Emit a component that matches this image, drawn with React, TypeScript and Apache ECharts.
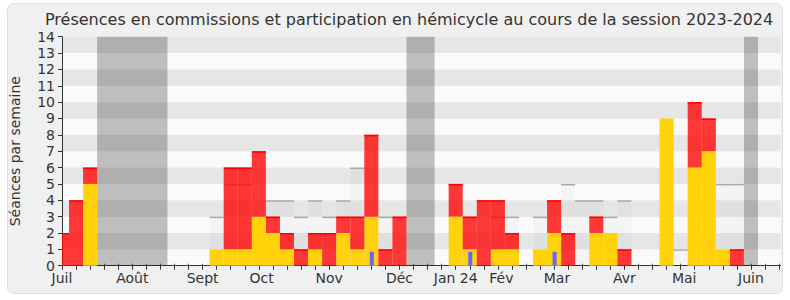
import React, { useEffect, useRef } from "react";
import * as echarts from "echarts";

// Weekly values, session 2023-2024 (week index 0 = first week of July 2023)
const hemicycle = [0, 0, 5, 0, 0, 0, 0, 0, 0, 0, 0, 1, 1, 1, 3, 2, 1, 0, 1, 0, 2, 1, 3, 0, 0, 0, 0, 0, 3, 1, 0, 1, 1, 0, 1, 2, 0, 0, 2, 2, 0, 0, 0, 9, 0, 6, 7, 1, 0, 0, 0, 0];
const commission = [2, 4, 1, 0, 0, 0, 0, 0, 0, 0, 0, 0, 5, 5, 4, 1, 1, 1, 1, 2, 1, 2, 5, 1, 3, 0, 0, 0, 2, 2, 4, 3, 1, 0, 0, 2, 2, 0, 1, 0, 1, 0, 0, 0, 0, 4, 2, 0, 1, 0, 0, 0];
const median: (number | null)[] = [null, null, null, null, null, null, null, null, null, null, null, 3, 5, 5, null, 4, 4, 3, 4, 3, 4, 6, null, 3, null, null, null, null, null, null, null, 3, 3, null, 3, null, 5, 4, 4, 3, 4, null, null, null, 1, null, null, 5, 5, null, null, null];
const questions = [0, 0, 0, 0, 0, 0, 0, 0, 0, 0, 0, 0, 0, 0, 0, 0, 0, 0, 0, 0, 0, 0, 0.85, 0, 0, 0, 0, 0, 0, 0.85, 0, 0, 0, 0, 0, 0.85, 0, 0, 0, 0, 0, 0, 0, 0, 0, 0, 0, 0, 0, 0, 0, 0];
const vacations = [[3, 7], [25, 26], [49, 49]];
const monthNames = ["Juil", "Août", "Sept", "Oct", "Nov", "Déc", "Jan 24", "Fév", "Mar", "Avr", "Mai", "Juin"];
const monthPos = [0, 5, 10, 14.2, 19, 24, 28, 31.25, 35.2, 40, 44.25, 49];
const yTicks = [0, 1, 2, 3, 4, 5, 6, 7, 8, 9, 10, 11, 12, 13, 14];

const FONT = "DejaVu Sans";
const X_MIN = 0;
const X_MAX = 51.1;

function clip(rect: any, params: any) {
  const cs = params.coordSys;
  return echarts.graphic.clipRectByRect(rect, { x: cs.x, y: cs.y, width: cs.width, height: cs.height });
}

function slotRender(fill: string, topStroke: string | null, topWidth = 1.5) {
  return (params: any, api: any) => {
    const k = api.value(0);
    const lo = api.value(1);
    const hi = api.value(2);
    const p1 = api.coord([k - 0.5, hi]);
    const p2 = api.coord([k + 0.5, lo]);
    const rect = clip({ x: p1[0], y: p1[1], width: p2[0] - p1[0], height: p2[1] - p1[1] }, params);
    if (!rect) return null;
    const children: any[] = [{ type: "rect", shape: rect, style: { fill } }];
    if (topStroke) {
      children.push({
        type: "line",
        shape: { x1: rect.x, y1: rect.y + topWidth / 2, x2: rect.x + rect.width, y2: rect.y + topWidth / 2 },
        style: { stroke: topStroke, lineWidth: topWidth },
      });
    }
    return { type: "group", children };
  };
}

export default function App() {
  const ref = useRef<HTMLDivElement>(null);
  useEffect(() => {
    if (!ref.current) return;
    const chart = echarts.init(ref.current, null, { renderer: "svg" });
    const weekIdx = hemicycle.map((_, i) => i);

    const yellowData = weekIdx.filter((k) => hemicycle[k] > 0).map((k) => [k, 0, hemicycle[k]]);
    const redData = weekIdx.filter((k) => commission[k] > 0).map((k) => [k, hemicycle[k], hemicycle[k] + commission[k]]);
    const medianData = weekIdx.filter((k) => median[k] != null).map((k) => [k, 0, median[k] as number]);
    const blueData = weekIdx.filter((k) => questions[k] > 0).map((k) => [k, 0, questions[k]]);
    const vacData = vacations.map((v) => [v[0], v[1]]);

    const option: any = {
      animation: false,
      textStyle: { fontFamily: FONT },
      title: {
        text: "Présences en commissions et participation en hémicycle au cours de la session 2023-2024",
        left: 45,
        top: 11,
        padding: 0,
        textStyle: { fontFamily: FONT, fontSize: 16, fontWeight: "normal", color: "#333" },
      },
      graphic: [
        {
          type: "rect",
          z: -100,
          silent: true,
          shape: { x: 7.5, y: 3.5, width: 775, height: 290, r: 6 },
          style: { fill: "#f0f0f0", stroke: "#dedede", lineWidth: 1 },
        },
      ],
      grid: { left: 61, right: 9.5, top: 36.7, bottom: 34.3, containLabel: false },
      xAxis: [
        {
          type: "value",
          min: X_MIN,
          max: X_MAX,
          position: "bottom",
          axisLine: { show: true, onZero: false, lineStyle: { color: "#333", width: 1 } },
          axisTick: { show: true, customValues: weekIdx, length: 4, lineStyle: { color: "#333" } },
          axisLabel: {
            show: true,
            customValues: monthPos,
            margin: 5,
            fontSize: 14,
            color: "#333",
            fontFamily: FONT,
            formatter: (v: number) => {
              const i = monthPos.indexOf(v);
              return i >= 0 ? monthNames[i] : "";
            },
          },
          splitLine: { show: false },
        },
        {
          type: "value",
          min: X_MIN,
          max: X_MAX,
          position: "top",
          axisLine: { show: false },
          axisTick: { show: true, customValues: weekIdx, length: 2, lineStyle: { color: "#555" } },
          axisLabel: { show: false },
          splitLine: { show: false },
        },
      ],
      yAxis: [
        {
          type: "value",
          min: 0,
          max: 14,
          interval: 1,
          name: "Séances par semaine",
          nameLocation: "middle",
          nameGap: 40,
          nameTextStyle: { fontSize: 14, color: "#333", fontFamily: FONT },
          axisLine: { show: true, lineStyle: { color: "#333" } },
          axisTick: { show: true, length: 4, lineStyle: { color: "#333" } },
          axisLabel: {
            fontSize: 14,
            color: "#333",
            margin: 7,
            fontFamily: FONT,
            customValues: yTicks,
          },
          splitLine: { show: false },
          splitArea: { show: true, areaStyle: { color: ["#fafafa", "#e6e6e6"] } },
        },
      ],
      series: [
        {
          type: "custom",
          name: "vacances",
          silent: true,
          data: vacData,
          renderItem: (params: any, api: any) => {
            const a = api.value(0);
            const b = api.value(1);
            const p1 = api.coord([a - 0.5, 14]);
            const p2 = api.coord([b + 0.5, 0]);
            const rect = clip({ x: p1[0], y: p1[1], width: p2[0] - p1[0], height: p2[1] - p1[1] }, params);
            if (!rect) return null;
            return { type: "rect", shape: rect, style: { fill: "rgba(0,0,0,0.24)" } };
          },
          z: 1,
        },
        {
          type: "custom",
          name: "médiane",
          silent: true,
          data: medianData,
          renderItem: slotRender("rgba(0,0,0,0.025)", "#a8a8a8", 1.5),
          z: 2,
        },
        {
          type: "custom",
          name: "hémicycle",
          silent: true,
          data: yellowData,
          renderItem: slotRender("#ffd20c", null),
          z: 3,
        },
        {
          type: "custom",
          name: "commission",
          silent: true,
          data: redData,
          renderItem: slotRender("rgba(255,0,0,0.78)", "#ff0000", 1.5),
          z: 4,
        },
        {
          type: "custom",
          name: "questions",
          silent: true,
          data: blueData,
          renderItem: (params: any, api: any) => {
            const k = api.value(0);
            const hi = api.value(2);
            const c = api.coord([k, hi]);
            const b = api.coord([k, 0]);
            return { type: "rect", shape: { x: c[0] - 1.5, y: c[1], width: 4, height: b[1] - c[1] }, style: { fill: "#6464ff" } };
          },
          z: 5,
        },
      ],
    };
    chart.setOption(option);
    return () => chart.dispose();
  }, []);

  return (
    <div
      ref={ref}
      style={{ position: "fixed", left: 0, top: 0, width: 790, height: 300, background: "#ffffff" }}
    />
  );
}
